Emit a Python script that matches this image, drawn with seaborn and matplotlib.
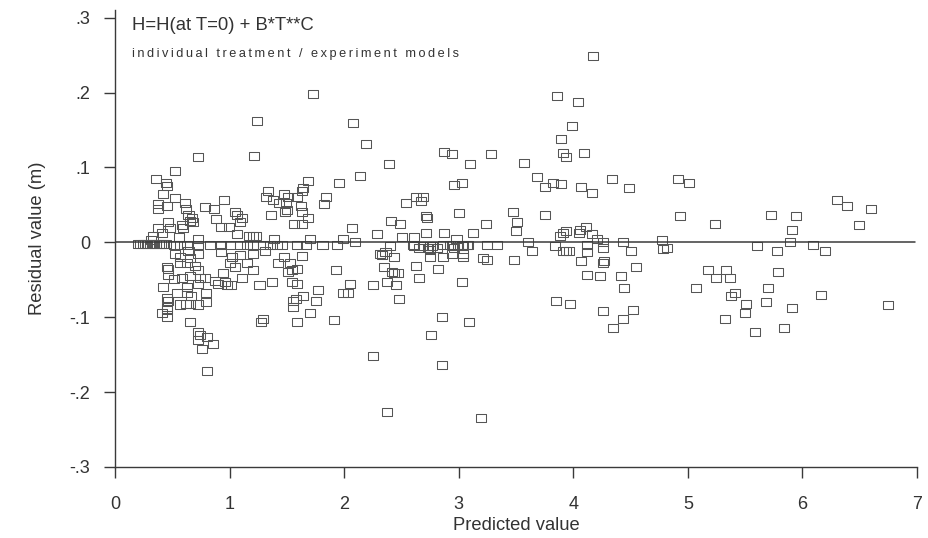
import numpy as np
import pandas as pd
import matplotlib
matplotlib.use("Agg")
import matplotlib.pyplot as plt
from matplotlib.path import Path
from matplotlib.markers import MarkerStyle
import seaborn as sns

# ---- data ----
band_left_x = [0.20, 0.22, 0.24, 0.26, 0.28, 0.30, 0.32, 0.34, 0.36, 0.38, 0.40, 0.42, 0.44,
               0.51, 0.57, 0.63, 0.72, 0.83, 0.92, 1.00, 1.09, 1.15, 1.29, 1.41]
band_left_y = [-0.002] * 13 + [-0.003] * 11

left_x = [0.72, 0.52, 0.36, 0.44, 0.45, 0.42, 0.52, 0.37, 0.37, 0.45, 0.61, 0.62, 0.95, 0.78,
          0.86, 0.88, 0.64, 0.67, 0.68, 0.65, 0.58, 0.59, 0.46, 0.48, 0.37, 0.92, 0.99, 1.05,
          1.06, 1.11, 1.09, 0.33, 0.41, 0.56, 0.72, 1.17, 1.06, 0.31,
          0.52, 0.64, 0.72, 0.57, 0.65, 0.92, 1.02, 1.09, 1.15, 1.00, 0.45,
          0.46, 0.57, 0.63, 0.70, 0.72, 0.46, 0.51, 0.58, 0.65, 0.74, 0.78, 0.72, 0.63, 0.42,
          0.54, 0.63, 0.66, 0.45, 0.46, 0.57, 0.62, 0.65, 0.72, 0.79, 0.79, 0.45, 0.45, 0.41,
          0.45, 0.65, 0.72, 0.74, 0.72, 0.80, 0.76, 0.85, 0.80, 0.94, 0.96, 0.87, 0.90, 0.98,
          1.01, 1.05, 1.11]
left_y = [0.114, 0.095, 0.084, 0.079, 0.075, 0.064, 0.059, 0.051, 0.044, 0.049, 0.052, 0.045,
          0.056, 0.047, 0.044, 0.031, 0.036, 0.033, 0.027, 0.029, 0.023, 0.019, 0.027, 0.019,
          0.019, 0.020, 0.021, 0.040, 0.037, 0.033, 0.027, 0.009, 0.012, 0.007, 0.004, 0.009,
          0.011, 0.003,
          -0.015, -0.011, -0.015, -0.020, -0.021, -0.013, -0.019, -0.017, -0.028, -0.027, -0.033,
          -0.035, -0.027, -0.028, -0.031, -0.037, -0.044, -0.049, -0.047, -0.045, -0.047, -0.048,
          -0.056, -0.059, -0.060, -0.067, -0.068, -0.071, -0.074, -0.078, -0.083, -0.082, -0.082,
          -0.083, -0.080, -0.068, -0.087, -0.091, -0.095, -0.100, -0.106, -0.120, -0.124, -0.130,
          -0.126, -0.143, -0.136, -0.172, -0.041, -0.053, -0.052, -0.055, -0.057, -0.057, -0.033,
          -0.048]

mid_x = [1.73, 1.24, 2.08, 2.19, 1.21, 2.39, 2.14, 1.95, 1.68, 1.64, 1.63, 1.33, 1.32, 1.38,
         1.47, 1.51, 1.59, 1.84, 1.82, 1.43, 1.49, 1.48, 1.50, 1.62, 1.63, 1.36, 1.68, 1.56,
         1.63, 2.54, 2.63, 2.69, 2.67, 2.71, 2.72, 2.41, 2.49, 2.07, 2.29, 2.50, 2.61, 2.71,
         2.98, 1.99, 2.09, 1.70, 1.39, 1.23, 1.20,
         1.20, 1.35, 1.46, 1.59, 1.67, 1.81, 1.94, 2.40, 2.60, 2.69, 2.75,
         1.20, 1.31, 1.47, 1.63, 1.42, 1.53, 1.51, 1.54, 1.59, 1.20, 1.93, 2.31, 2.43, 2.75,
         2.63, 2.82, 2.35, 2.42, 2.43, 2.47, 2.65, 2.37, 2.45, 2.25, 2.05, 1.26, 1.37, 1.54,
         1.59, 1.77, 1.99, 2.03, 1.64, 1.55, 1.58, 1.75, 1.55, 1.70, 2.48, 1.29, 1.27, 1.59,
         1.91, 2.76, 2.25, 2.37,
         2.61, 2.65, 2.73, 2.77, 2.81, 2.92, 2.96, 3.03, 3.07, 2.75, 2.36, 2.33]
mid_y = [0.198, 0.162, 0.159, 0.132, 0.115, 0.104, 0.088, 0.079, 0.082, 0.072, 0.068, 0.069,
         0.061, 0.057, 0.064, 0.061, 0.060, 0.061, 0.051, 0.052, 0.053, 0.040, 0.043, 0.048,
         0.040, 0.037, 0.033, 0.025, 0.024, 0.053, 0.061, 0.060, 0.055, 0.035, 0.032, 0.028,
         0.025, 0.019, 0.011, 0.007, 0.007, 0.012, 0.005, 0.005, 0.001, 0.005, 0.005, 0.008,
         0.009,
         -0.003, -0.003, -0.003, -0.003, -0.003, -0.003, -0.003, -0.005, -0.004, -0.005, -0.005,
         -0.015, -0.011, -0.020, -0.018, -0.028, -0.028, -0.040, -0.037, -0.036, -0.037, -0.037,
         -0.016, -0.019, -0.010, -0.032, -0.035, -0.033, -0.040, -0.041, -0.041, -0.047, -0.053,
         -0.057, -0.057, -0.055, -0.057, -0.053, -0.053, -0.056, -0.063, -0.067, -0.068, -0.072,
         -0.078, -0.076, -0.078, -0.087, -0.094, -0.075, -0.102, -0.106, -0.106, -0.104, -0.124,
         -0.152, -0.226,
         -0.005, -0.007, -0.008, -0.005, -0.007, -0.003, -0.007, -0.005, -0.003, -0.020, -0.013,
         -0.017]

right_x = [4.17, 3.86, 4.04, 3.99, 3.89, 3.91, 3.94, 4.09, 2.87, 2.94, 3.28, 3.10, 3.57, 3.68,
           3.75, 3.82, 3.89, 4.07, 4.16, 4.34, 4.49, 4.91, 5.01, 2.96, 3.03, 3.00, 3.47, 3.51,
           3.75, 4.93, 3.24, 3.12, 2.87, 3.50, 3.94, 3.91, 4.11, 4.05, 4.16, 3.88, 3.60, 4.26,
           4.43, 4.77, 3.84, 4.82,
           2.86, 2.94, 2.99, 3.08, 3.25, 3.33, 3.94, 3.96, 4.12, 4.26, 4.50, 4.78, 2.86, 2.94,
           3.04, 3.04, 3.21, 3.25, 3.48, 3.64, 4.07, 4.26, 4.27, 4.55, 4.12, 4.23, 4.42, 4.44,
           3.03, 3.85, 3.97, 4.26, 4.43, 4.52, 4.35, 3.09, 2.85, 2.85, 3.19,
           3.04, 4.12, 4.06, 4.21, 3.91,
           5.24, 5.60, 5.78, 5.73, 5.94, 5.91, 5.89, 6.09, 6.20, 6.30, 6.39, 6.60, 6.49, 5.18,
           5.33, 5.25, 5.37, 5.07, 5.41, 5.38, 5.51, 5.70, 5.79, 5.68, 5.50, 5.32, 5.59, 5.84,
           5.91, 6.16, 6.75]
right_y = [0.249, 0.195, 0.187, 0.155, 0.138, 0.119, 0.114, 0.119, 0.120, 0.118, 0.118, 0.104,
           0.106, 0.087, 0.074, 0.079, 0.078, 0.074, 0.066, 0.084, 0.072, 0.084, 0.079, 0.076,
           0.079, 0.039, 0.041, 0.027, 0.037, 0.035, 0.024, 0.012, 0.012, 0.015, 0.015, 0.013,
           0.021, 0.012, 0.011, 0.008, 0.000, 0.000, 0.001, 0.003, -0.005, -0.007,
           -0.004, -0.004, -0.004, -0.004, -0.004, -0.004, -0.011, -0.012, -0.013, -0.007,
           -0.011, -0.009, -0.019, -0.016, -0.016, -0.020, -0.021, -0.024, -0.023, -0.012,
           -0.025, -0.027, -0.025, -0.033, -0.043, -0.045, -0.045, -0.061, -0.053, -0.078,
           -0.082, -0.092, -0.102, -0.090, -0.115, -0.106, -0.100, -0.164, -0.235,
           -0.003, -0.003, 0.016, 0.005, -0.011,
           0.025, -0.005, -0.012, 0.036, 0.035, 0.017, 0.001, -0.004, -0.012, 0.057, 0.049,
           0.044, 0.023, -0.037, -0.037, -0.048, -0.047, -0.061, -0.067, -0.072, -0.082,
           -0.061, -0.040, -0.080, -0.095, -0.102, -0.120, -0.115, -0.088, -0.070, -0.084]

y_ticks = [-0.3, -0.2, -0.1, 0.0, 0.1, 0.2, 0.3]
y_tick_labels = ["-.3", "-.2", "-.1", "0", ".1", ".2", ".3"]
x_ticks = [0, 1, 2, 3, 4, 5, 6, 7]

df = pd.DataFrame({
    "predicted": band_left_x + left_x + mid_x + right_x,
    "residual": band_left_y + left_y + mid_y + right_y,
})

# ---- style ----
sns.set_theme(style="ticks")
plt.rcParams["font.family"] = ["Liberation Sans", "DejaVu Sans"]
ink = "#333333"

fig = plt.figure(figsize=(9.29, 5.38), dpi=100)
ax = fig.add_axes([0.124, 0.132, 0.863, 0.849])

rect = Path([(-0.5, -0.4), (0.5, -0.4), (0.5, 0.4), (-0.5, 0.4), (-0.5, -0.4)],
            [Path.MOVETO, Path.LINETO, Path.LINETO, Path.LINETO, Path.CLOSEPOLY])
sns.scatterplot(data=df, x="predicted", y="residual", ax=ax,
                marker=MarkerStyle(rect), s=52, facecolor="none",
                edgecolor="#555555", linewidth=0.75, legend=False)

ax.axhline(0, xmin=0, xmax=0.997, color="#3a3a3a", lw=1.1, zorder=1)

ax.set_xlim(0, 7)
ax.set_ylim(-0.3, 0.31)
ax.set_xticks(x_ticks)
ax.set_xticklabels([str(t) for t in x_ticks])
ax.set_yticks(y_ticks)
ax.set_yticklabels(y_tick_labels)

for s in ["top", "right"]:
    ax.spines[s].set_visible(False)
for s in ["left", "bottom"]:
    ax.spines[s].set_color("#3a3a3a")
    ax.spines[s].set_linewidth(1.0)

ax.tick_params(axis="both", direction="out", length=8, width=1.0, color="#3a3a3a",
               labelsize=13, labelcolor=ink)
ax.tick_params(axis="x", pad=13)
ax.tick_params(axis="y", pad=10)

ax.set_xlabel("Predicted value", fontsize=13.2, color=ink, labelpad=3)
ax.set_ylabel("Residual value (m)", fontsize=13.2, color=ink, labelpad=17)

ax.text(0.021, 0.985, "H=H(at T=0) + B*T**C", transform=ax.transAxes,
        fontsize=13.3, color=ink, va="top", ha="left")
sub = "individual treatment / experiment models"
ax.text(0.021, 0.918, "\u2009".join(sub), transform=ax.transAxes,
        fontsize=9.2, color=ink, va="top", ha="left",
        family=["Liberation Sans", "DejaVu Sans"])

fig.savefig("out.png", dpi=100)
